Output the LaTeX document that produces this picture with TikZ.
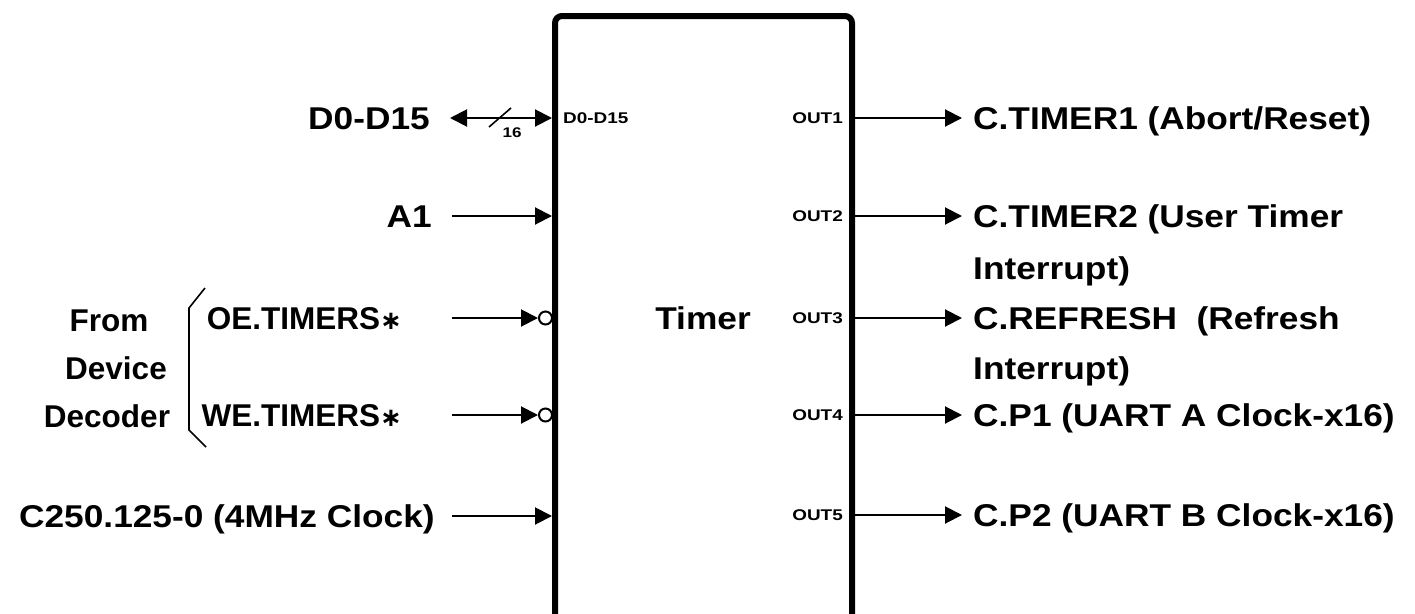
\documentclass[tikz,border=0pt]{standalone}
\usepackage{fontspec}
\usetikzlibrary{arrows.meta}
\newfontfamily\labfam[FakeStretch=1.12]{Liberation Sans}
\newfontfamily\plainfam{Liberation Sans}
\newfontfamily\pinfam[FakeStretch=1.22]{Liberation Sans}
\newfontfamily\symfam{DejaVu Sans}
\newcommand{\starsym}{{\symfam\fontsize{26}{30}\selectfont ∗}}
\tikzset{
  big/.style={font=\labfam\bfseries\fontsize{31.5}{36}\selectfont, inner sep=0pt, text height=22.5pt, text depth=0pt},
  mid/.style={font=\plainfam\bfseries\fontsize{31.5}{36}\selectfont, inner sep=0pt, text height=22.5pt, text depth=0pt},
  pin/.style={font=\pinfam\bfseries\fontsize{15.5}{18}\selectfont, inner sep=0pt, text height=11pt, text depth=0pt},
  wire/.style={line width=2pt},
  sig/.style={wire, -{Triangle[length=17pt,width=17pt]}},
  bus/.style={wire, {Triangle[length=17pt,width=17pt]}-{Triangle[length=17pt,width=17pt]}},
  bubble/.style={circle, draw, line width=2pt, fill=white, minimum size=13pt, inner sep=0pt},
  chip/.style={line width=6pt, rounded corners=7pt}
}
\begin{document}
\begin{tikzpicture}[x=1pt,y=1pt]
\useasboundingbox (0,0) rectangle (1415,-613);
% chip outline (open at the bottom)
\coordinate (bl) at (555,-650);
\coordinate (tl) at (555,-16);
\coordinate (tr) at (852,-16);
\coordinate (br) at (852,-650);
\draw[chip] (bl) -- (tl) -- (tr) -- (br);
\node[big] (timer) at (703,-318) {Timer};

% pin labels inside
\node[pin, anchor=west] (pD) at (563,-118) {D0-D15};
\node[pin, anchor=east] (o1) at (843,-118) {OUT1};
\node[pin, anchor=east] (o2) at (843,-216) {OUT2};
\node[pin, anchor=east] (o3) at (843,-318) {OUT3};
\node[pin, anchor=east] (o4) at (843,-415) {OUT4};
\node[pin, anchor=east] (o5) at (843,-515) {OUT5};

% left signal labels
\node[big, anchor=east] (lD) at (430,-118) {D0-D15};
\node[big, anchor=east] (lA) at (432,-216) {A1};
\node[mid, anchor=east] (lOE) at (402,-318) {OE.TIMERS\starsym};
\node[mid, anchor=east] (lWE) at (402,-415) {WE.TIMERS\starsym};
\node[big, anchor=east] (lC) at (435,-516) {C250.125-0 (4MHz Clock)};

\node[mid] (from) at (109,-320) {From};
\node[mid] (dev) at (116,-368) {Device};
\node[mid] (dec) at (107,-416) {Decoder};

% bracket
\coordinate (bra) at (205,-288);
\coordinate (brb) at (189,-308);
\coordinate (brc) at (189,-430);
\coordinate (brd) at (206,-447);
\draw[line width=1.6pt] (bra) -- (brb) -- (brc) -- (brd);

% left connectors
\coordinate (sD) at (450,-118);
\coordinate (eD) at (552,-118);
\draw[bus] (sD) -- (eD);
\coordinate (s1) at (489,-127);
\coordinate (s2) at (511,-108);
\draw[line width=1.6pt] (s1) -- (s2);
\node[pin, font=\pinfam\bfseries\fontsize{14}{16}\selectfont, text height=10pt] (n16) at (512,-132) {16};

\coordinate (sA) at (452,-216);
\coordinate (eA) at (552,-216);
\draw[sig] (sA) -- (eA);

\node[bubble] (bOE) at (545.5,-318) {};
\coordinate (sOE) at (452,-318);
\draw[sig] (sOE) -- (bOE.west);

\node[bubble] (bWE) at (545.5,-415) {};
\coordinate (sWE) at (452,-415);
\draw[sig] (sWE) -- (bWE.west);

\coordinate (sC) at (452,-516);
\coordinate (eC) at (552,-516);
\draw[sig] (sC) -- (eC);

% right connectors and labels
\foreach \n/\y in {1/118,2/216,3/318,4/415,5/515}{
  \coordinate (q\n) at (855,-\y);
  \coordinate (t\n) at (962,-\y);
  \draw[sig] (q\n) -- (t\n);
}
\node[big, anchor=west] (r1) at (973,-118) {C.TIMER1 (Abort/Reset)};
\node[big, anchor=west] (r2) at (973,-216) {C.TIMER2 (User Timer};
\node[big, anchor=west] (r2b) at (973,-268) {Interrupt)};
\node[big, anchor=west] (r3) at (973,-318) {C.REFRESH \ (Refresh};
\node[big, anchor=west] (r3b) at (973,-368) {Interrupt)};
\node[big, anchor=west] (r4) at (973,-415) {C.P1 (UART A Clock-x16)};
\node[big, anchor=west] (r5) at (973,-515) {C.P2 (UART B Clock-x16)};
\end{tikzpicture}
\end{document}
